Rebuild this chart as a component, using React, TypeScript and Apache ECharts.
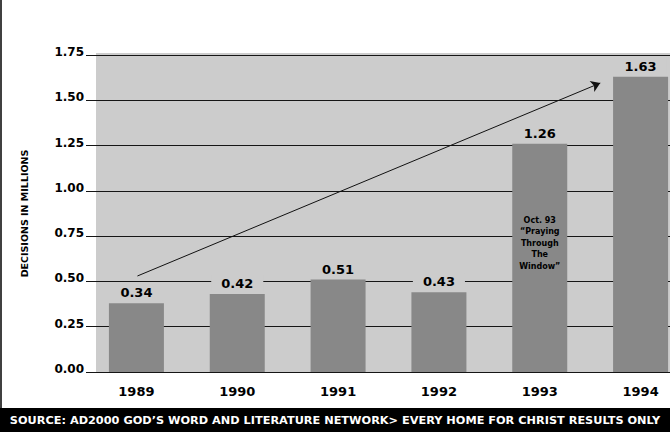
import React, { useEffect, useRef } from "react";
import * as echarts from "echarts";

const years = ["1989", "1990", "1991", "1992", "1993", "1994"];
// bar heights as drawn in the picture
const barValues = [0.38, 0.43, 0.51, 0.44, 1.26, 1.63];
// value labels as printed above the bars
const barLabels = ["0.34", "0.42", "0.51", "0.43", "1.26", "1.63"];
const yMin = 0;
const yMax = 1.75;
const yStep = 0.25;
// trend arrow: [category position, value]
const arrowStart = [0.01, 0.53];
const arrowEnd = [4.6, 1.595];
const noteText = "Oct. 93\n\u201cPraying\nThrough\nThe\nWindow\u201d";
const noteAt = ["1993", 0.71];
const yName = "DECISIONS IN MILLIONS";
const sourceText =
  "SOURCE: AD2000 GOD\u2019S WORD AND LITERATURE NETWORK> EVERY HOME FOR CHRIST RESULTS ONLY";

const FONT = "DejaVu Sans";

export default function App() {
  const ref = useRef<HTMLDivElement>(null);
  useEffect(() => {
    document.body.style.margin = "0";
    document.body.style.overflow = "hidden";
    document.documentElement.style.overflow = "hidden";
    const chart = echarts.init(ref.current!, null, { renderer: "svg" });
    const W = 670;
    const H = 432;
    const gridLeft = 86;
    const gridTop = 55;
    const gridBottom = 60;
    chart.setOption({
      animation: false,
      backgroundColor: "#ffffff",
      grid: { left: gridLeft, right: 0, top: gridTop, bottom: gridBottom, containLabel: false },
      xAxis: [
        {
          type: "category",
          data: years,
          axisLine: { show: false },
          axisTick: { show: false },
          axisLabel: {
            margin: 13,
            color: "#000",
            fontFamily: FONT,
            fontWeight: "bold",
            fontSize: 13,
          },
        },
        { type: "value", min: -0.5, max: 5.5, show: false },
      ],
      yAxis: {
        type: "value",
        min: yMin,
        max: yMax,
        interval: yStep,
        name: yName,
        nameLocation: "middle",
        nameRotate: 90,
        nameGap: 57,
        nameTextStyle: {
          color: "#000",
          fontFamily: FONT,
          fontWeight: "bold",
          fontSize: 9.5,
        },
        axisLine: { show: false },
        axisTick: { show: false },
        splitLine: { show: true, lineStyle: { color: "#151515", width: 1 } },
        axisLabel: {
          margin: 2,
          color: "#000",
          fontFamily: FONT,
          fontWeight: "bold",
          fontSize: 12,
          verticalAlign: "bottom",
          padding: [0, 0, -3, 0],
          formatter: (v: number) => v.toFixed(2),
        },
      },
      graphic: [
        {
          type: "rect",
          z: -10,
          shape: { x: 96, y: 53, width: W - 96, height: H - gridBottom - 53 },
          style: { fill: "#cccccc" },
          silent: true,
        },
        {
          type: "line",
          shape: { x1: 1, y1: 0, x2: 1, y2: 408 },
          style: { stroke: "#000", lineWidth: 1.5 },
        },
        {
          type: "rect",
          shape: { x: 0, y: 408, width: W + 30, height: H - 408 },
          style: { fill: "#000" },
        },
        {
          type: "text",
          x: W / 2,
          y: 420,
          style: {
            text: sourceText,
            fill: "#fff",
            font: `bold 11.3px "${FONT}"`,
            textAlign: "center",
            textVerticalAlign: "middle",
          },
        },
      ],
      series: [
        {
          type: "bar",
          data: barValues,
          barWidth: 55,
          itemStyle: { color: "#888888" },
          label: {
            show: true,
            position: "top",
            distance: 3,
            formatter: (p: any) => barLabels[p.dataIndex],
            color: "#000",
            fontFamily: FONT,
            fontWeight: "bold",
            fontSize: 13,
            backgroundColor: "#cccccc",
            padding: [2, 10, 1, 10],
          },
          markPoint: {
            symbol: "circle",
            symbolSize: 0,
            silent: true,
            data: [
              {
                coord: noteAt,
                label: {
                  show: true,
                  position: "inside",
                  formatter: noteText,
                  color: "#000",
                  fontFamily: FONT,
                  fontWeight: "bold",
                  fontSize: 8,
                  lineHeight: 11.5,
                  align: "center",
                },
              },
            ],
          },
        },
        {
          type: "lines",
          coordinateSystem: "cartesian2d",
          xAxisIndex: 1,
          yAxisIndex: 0,
          symbol: ["none", "arrow"],
          symbolSize: 9,
          lineStyle: { color: "#111", width: 1, opacity: 1 },
          silent: true,
          data: [{ coords: [arrowStart, arrowEnd] }],
        },
      ],
    });
    return () => chart.dispose();
  }, []);
  return <div ref={ref} style={{ width: 691, height: 432 }} />;
}
